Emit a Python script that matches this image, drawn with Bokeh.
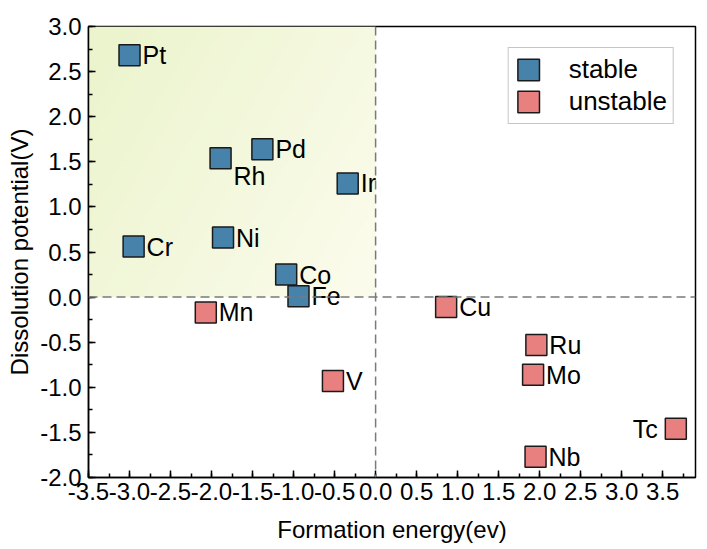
import numpy as np
from bokeh.plotting import figure
from bokeh.models import (ColumnDataSource, Span, Legend, LegendItem,
                          SingleIntervalTicker, NumeralTickFormatter, Range1d)
from bokeh.embed import file_html
from bokeh.resources import INLINE
from bokeh.core.properties import value

# ---------------- data ----------------
elements = ["Pt", "Rh", "Pd", "Ir", "Cr", "Ni", "Co", "Fe",
            "Mn", "Cu", "V", "Ru", "Mo", "Tc", "Nb"]
formation_energy = [-3.00, -1.89, -1.38, -0.34, -2.95, -1.86, -1.09, -0.94,
                    -2.07, 0.86, -0.52, 1.96, 1.92, 3.66, 1.95]
dissolution_potential = [2.68, 1.54, 1.64, 1.26, 0.56, 0.66, 0.25, 0.01,
                         -0.17, -0.11, -0.93, -0.53, -0.86, -1.46, -1.77]
stability = ["stable"] * 8 + ["unstable"] * 7
categories = ["stable", "unstable"]

x_limits = (-3.5, 3.9)
y_limits = (-2.0, 3.0)
x_title = "Formation energy(ev)"
y_title = "Dissolution potential(V)"

# ---------------- style ----------------
FONT = "Liberation Sans"
colors = {"stable": "#4682aa", "unstable": "#e88080"}
# label placement (x_offset px, y_offset px, align)
special_place = {"Rh": (13, 18, "left"), "Tc": (-18, 0, "right")}
default_place = (13, 0, "left")

p = figure(frame_width=607, frame_height=451,
           x_range=Range1d(*x_limits), y_range=Range1d(*y_limits),
           output_backend="svg", toolbar_location=None,
           min_border_left=88, min_border_right=10,
           min_border_top=26, min_border_bottom=72,
           background_fill_color="white", border_fill_color="white")
p.grid.visible = False
p.outline_line_color = "black"
p.outline_line_width = 1.5

# gradient-shaded stable quadrant (x<0, y>0)
nx, ny = 120, 100
u = np.linspace(0, 1, nx)[None, :]
v = np.linspace(0, 1, ny)[:, None]
t = np.clip(0.65 * u + 0.35 * (1 - v), 0, 1)
c0 = np.array([235, 244, 204])
c1 = np.array([252, 252, 237])
img = np.empty((ny, nx), dtype=np.uint32)
view = img.view(dtype=np.uint8).reshape((ny, nx, 4))
for k in range(3):
    view[:, :, k] = (c0[k] + (c1[k] - c0[k]) * t).astype(np.uint8)
view[:, :, 3] = 255
p.image_rgba(image=[img], x=x_limits[0], y=0, dw=0 - x_limits[0], dh=y_limits[1])

# reference lines
for loc, dim in ((0, "width"), (0, "height")):
    p.add_layout(Span(location=loc, dimension=dim, line_color="#7a7a7a",
                      line_width=1.5, line_dash="9 5"))

# markers
renderers = {}
for cat in categories:
    idx = [i for i, s in enumerate(stability) if s == cat]
    src = ColumnDataSource(dict(x=[formation_energy[i] for i in idx],
                                y=[dissolution_potential[i] for i in idx]))
    renderers[cat] = p.rect("x", "y", width=21, height=21,
                            width_units="screen", height_units="screen",
                            source=src, fill_color=colors[cat],
                            line_color="#1a1a1a", line_width=1.5)

# labels
for align in ("left", "right"):
    xs, ys, txt, xo, yo = [], [], [], [], []
    for i, name in enumerate(elements):
        dx, dy, al = special_place.get(name, default_place)
        if al != align:
            continue
        xs.append(formation_energy[i]); ys.append(dissolution_potential[i])
        txt.append(name); xo.append(dx); yo.append(dy)
    src = ColumnDataSource(dict(x=xs, y=ys, text=txt, xo=xo, yo=yo))
    p.text("x", "y", text="text", x_offset="xo", y_offset="yo", source=src,
           text_font=value(FONT), text_font_size="25px", text_color="black",
           text_align=align, text_baseline="middle")

# axes
for ax in (p.xaxis[0], p.yaxis[0]):
    ax.ticker = SingleIntervalTicker(interval=0.5, num_minor_ticks=2)
    ax.formatter = NumeralTickFormatter(format="0.0")
    ax.axis_line_width = 1.5
    ax.axis_line_color = "black"
    ax.major_tick_in = 7
    ax.major_tick_out = 0
    ax.minor_tick_in = 4
    ax.minor_tick_out = 0
    ax.major_tick_line_width = 1.5
    ax.minor_tick_line_width = 1.5
    ax.major_tick_line_color = "black"
    ax.minor_tick_line_color = "black"
    ax.major_label_text_font = FONT
    ax.major_label_text_font_size = "24px"
    ax.major_label_text_color = "black"
    ax.axis_label_text_font = FONT
    ax.axis_label_text_font_size = "24px"
    ax.axis_label_text_font_style = "normal"
    ax.axis_label_text_color = "black"

p.xaxis.axis_label = x_title
p.yaxis.axis_label = y_title
p.xaxis.major_label_standoff = 5
p.xaxis.axis_label_standoff = 13
p.yaxis.major_label_standoff = 7
p.yaxis.axis_label_standoff = 4

legend = Legend(items=[LegendItem(label=c, renderers=[renderers[c]]) for c in categories],
                location="top_right", margin=21, padding=6, spacing=1,
                glyph_width=27, glyph_height=27, label_standoff=27,
                label_text_font=FONT, label_text_font_size="26px",
                label_text_color="black",
                border_line_color="#8c8c8c", border_line_width=1.5,
                background_fill_color="white", background_fill_alpha=1.0)
p.add_layout(legend)

open("out.html", "w").write(file_html(p, INLINE))
